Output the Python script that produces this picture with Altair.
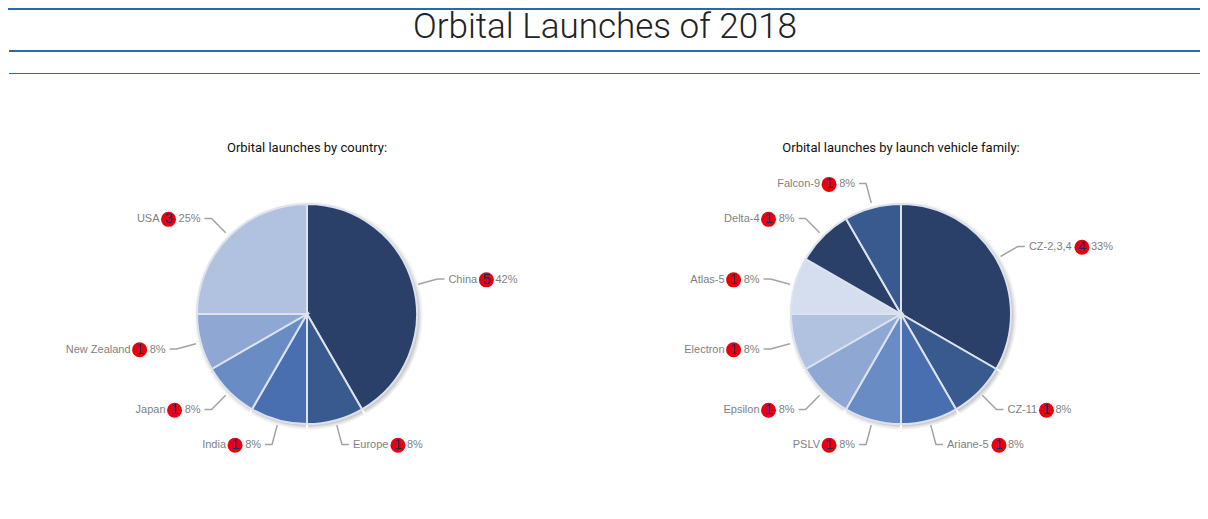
import math
import altair as alt
import pandas as pd

COUNTRY_NAMES = ["China", "Europe", "India", "Japan", "New Zealand", "USA"]
COUNTRY_COUNTS = [5, 1, 1, 1, 1, 3]
COUNTRY_COLORS = [0, 1, 2, 3, 4, 5]
COUNTRY_BADGE_DX = [38, 45, None, None, None, None]

FAMILY_NAMES = ["CZ-2,3,4", "CZ-11", "Ariane-5", "PSLV", "Epsilon", "Electron", "Atlas-5", "Delta-4", "Falcon-9"]
FAMILY_COUNTS = [4, 1, 1, 1, 1, 1, 1, 1, 1]
FAMILY_COLORS = [0, 1, 2, 3, 4, 5, 6, 0, 1]
FAMILY_BADGE_DX = [53, 39, 52, None, None, None, None, None, None]

PALETTE = ["#2a4069", "#385a8f", "#4a6fb0", "#6a8cc4", "#8ea8d3", "#b0c2df", "#d5deee"]

TITLE = "Orbital Launches of 2018"
SUB_LEFT = "Orbital launches by country:"
SUB_RIGHT = "Orbital launches by launch vehicle family:"

W, H = 1192, 495
R = 110
C_Y = 306
C_LEFT, C_RIGHT = 299, 893

X = lambda f="x": alt.X(f"{f}:Q", axis=None, scale=alt.Scale(domain=[0, W], range=[0, W], nice=False, zero=False))
Y = lambda f="y": alt.Y(f"{f}:Q", axis=None, scale=alt.Scale(domain=[0, H], range=[0, H], nice=False, zero=False))


def pie(names, counts, colors, badge_dx, cx):
    total = sum(counts)
    slices, leaders, labels = [], [], []
    cum = 0
    for i, (n, c) in enumerate(zip(names, counts)):
        a = 2 * math.pi * (cum + c / 2) / total
        cum += c
        s, co = math.sin(a), math.cos(a)
        slices.append(dict(name=n, count=c, rank=i, shade=colors[i], x=cx, y=C_Y))
        side = 1 if s > 0 else -1
        ax, ay = cx + 135 * s, C_Y - 135 * co
        for k, (px, py) in enumerate([(cx + 115 * s, C_Y - 115 * co), (ax, ay), (ax + side * 7, ay)]):
            leaders.append(dict(name=n, step=k, x=px, y=py))
        pct = f"{round(100 * c / total)}%"
        ty = ay + 0.8
        if side > 0:
            start = ax + 11
            bx = start + badge_dx[i]
            labels.append(dict(name=n, num=str(c), pct=pct, side=side, nx=start, bx=bx, px=bx + 9, y=ty))
        else:
            end = ax - 11
            bx = end - (26 if len(pct) == 2 else 32)
            labels.append(dict(name=n, num=str(c), pct=pct, side=side, nx=bx - 9, bx=bx, px=end, y=ty))

    sl = pd.DataFrame(slices)
    le = pd.DataFrame(leaders)
    la = pd.DataFrame(labels)
    theta = alt.Theta("count:Q", stack=True, scale=alt.Scale(domain=[0, total], range=[0, 2 * math.pi]))
    order = alt.Order("rank:Q")
    layers = []
    centre = pd.DataFrame({"x": [cx + 2], "y": [C_Y + 2]})
    for extra, op in [(5, 0.012), (4, 0.02), (3, 0.03), (2, 0.04), (1, 0.05), (0, 0.06)]:
        layers.append(alt.Chart(centre).mark_arc(theta=0, theta2=2 * math.pi, radius=R + extra, color="#000000", opacity=op)
                      .encode(x=X(), y=Y()))
    # pale notches that the slice borders leave in the shadow
    layers.append(alt.Chart(sl).mark_arc(radius=R + 7, fillOpacity=0, stroke="#ffffff", strokeWidth=2).encode(
        x=X(), y=Y(), theta=theta, order=order))
    layers.append(
        alt.Chart(sl).mark_arc(radius=R, stroke="#dde3ee", strokeWidth=2).encode(
            x=X(), y=Y(), theta=theta, order=order,
            color=alt.Color("shade:O", legend=None,
                            scale=alt.Scale(domain=list(range(len(PALETTE))), range=PALETTE)),
        ))
    layers.append(alt.Chart(le).mark_line(color="#a3a3a3", strokeWidth=1.5).encode(
        x=X(), y=Y(), detail="name:N", order="step:Q"))
    for side, align in [(1, "left"), (-1, "right")]:
        d = la[la.side == side]
        if len(d) == 0:
            continue
        base = alt.Chart(d)
        layers.append(base.mark_text(align=align, baseline="middle", font="Liberation Sans", fontSize=11, color="#7f7f7f")
                      .encode(x=X("nx"), y=Y(), text="name:N"))
        layers.append(base.mark_text(align=align, baseline="middle", font="Liberation Sans", fontSize=11, color="#7f7f7f")
                      .encode(x=X("px"), y=Y(), text="pct:N"))
    layers.append(alt.Chart(la).mark_circle(size=225, color="#e8000f", opacity=1).encode(x=X("bx"), y=Y()))
    layers.append(alt.Chart(la).mark_text(align="center", baseline="middle", font="Liberation Sans", fontSize=14,
                                          color="#1c2a70")
                  .encode(x=X("bx"), y=Y(), text="num:N"))
    return layers


rule_df = pd.DataFrame({"x": [0, 1, 1], "x2": [W, W, W], "y": [1, 43, 65.5], "w": [2, 2, 1]})
rules = [
    alt.Chart(rule_df[rule_df.w == w]).mark_rule(strokeWidth=w, color="#2a6aa8").encode(x=X(), x2="x2:Q", y=Y())
    for w in (2, 1)
]
title = alt.Chart(pd.DataFrame({"x": [597], "y": [18.5], "t": [TITLE]})).mark_text(
    font="Roboto", fontSize=35, fontWeight=300, color="#222222", align="center", baseline="middle").encode(x=X(), y=Y(), text="t:N")
subs = alt.Chart(pd.DataFrame({"x": [C_LEFT, C_RIGHT], "y": [140, 140], "t": [SUB_LEFT, SUB_RIGHT]})).mark_text(
    font="Roboto", fontSize=13, color="#111111", align="center", baseline="middle").encode(x=X(), y=Y(), text="t:N")

chart = alt.layer(
    *rules, title, subs,
    *pie(COUNTRY_NAMES, COUNTRY_COUNTS, COUNTRY_COLORS, COUNTRY_BADGE_DX, C_LEFT),
    *pie(FAMILY_NAMES, FAMILY_COUNTS, FAMILY_COLORS, FAMILY_BADGE_DX, C_RIGHT),
).properties(width=W, height=H, padding=0, autosize=alt.AutoSizeParams(type="none"), background="#ffffff"
).configure_view(stroke=None)

chart.save("out.html", embed_options={"renderer": "svg", "actions": False})
